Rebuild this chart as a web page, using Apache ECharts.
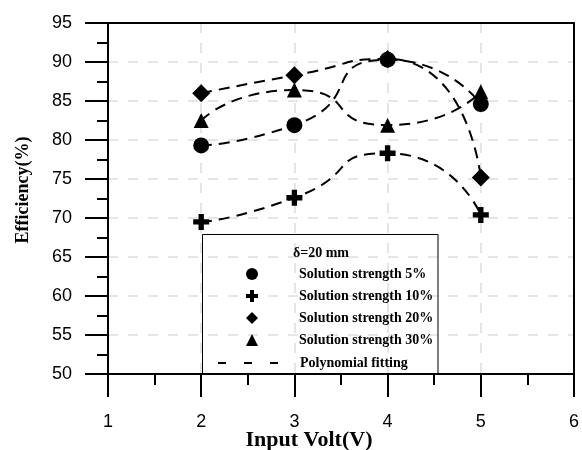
<!DOCTYPE html>
<html>
<head>
<meta charset="utf-8">
<script src="https://cdn.jsdelivr.net/npm/echarts@6/dist/echarts.min.js"></script>
<style>html,body{margin:0;padding:0;background:#fff;}#c{width:582px;height:450px;}</style>
</head>
<body>
<div id="c"></div>
<script>
// ---- data ----
var voltages = [2, 3, 4, 5];
var strength5 = [79.3, 81.9, 90.3, 84.6];
var strength10 = [69.5, 72.6, 78.3, 70.4];
var strength20 = [86.0, 88.3, 90.4, 75.2];
var strength30 = [82.5, 86.4, 81.9, 86.2];
var seriesNames = ['Solution strength 5%', 'Solution strength 10%', 'Solution strength 20%', 'Solution strength 30%'];
var fitName = 'Polynomial fitting';
var legendTitle = '\u03b4=20 mm';
var xTitle = 'Input Volt(V)';
var yTitle = 'Efficiency(%)';

function pairs(ys) { return voltages.map(function (x, i) { return [x, ys[i]]; }); }

var plusPath = 'path://M-1,-3H1V-1H3V1H1V3H-1V1H-3V-1H-1Z';
var serif = 'Liberation Serif, Times New Roman, serif';
var sans = 'Liberation Sans, Arial, sans-serif';

function fit(ys) {
  return {
    type: 'line', name: fitName, data: pairs(ys), smooth: 0.7, symbol: 'none',
    itemStyle: { color: '#000' },
    lineStyle: { color: '#000', width: 2, type: [11, 7] }, z: 2, silent: true
  };
}
function pts(name, ys, symbol, size, z) {
  return {
    type: 'scatter', name: name, data: pairs(ys), symbol: symbol, symbolSize: size,
    itemStyle: { color: '#000', opacity: 1 }, z: z
  };
}

var axisCommon = {
  axisLine: { show: true, lineStyle: { color: '#000', width: 2 } },
  axisTick: { show: true, inside: false, length: 23, lineStyle: { color: '#000', width: 2 } },
  minorTick: { show: true, splitNumber: 2, length: 11, lineStyle: { color: '#000', width: 2 } },
  splitLine: { show: true, showMinLine: false, showMaxLine: false, lineStyle: { color: '#dedede', width: 1.5, type: [10, 10] } }
};

var chart = echarts.init(document.getElementById('c'), null, { renderer: 'canvas' });
chart.setOption({
  animation: false,
  backgroundColor: '#fff',
  grid: { left: 108, right: 7, top: 23, bottom: 76, show: false },
  xAxis: [
    Object.assign({
      type: 'value', min: 1, max: 6, interval: 1,
      axisLabel: { color: '#000', fontSize: 18, fontFamily: sans, margin: 39 }
    }, axisCommon),
    {
      type: 'value', min: 1, max: 6, interval: 1, position: 'top',
      axisLine: { show: true, onZero: false, lineStyle: { color: '#000', width: 2 } },
      axisTick: { show: false }, axisLabel: { show: false }, splitLine: { show: false }
    }
  ],
  yAxis: [
    Object.assign({
      type: 'value', min: 50, max: 95, interval: 5,
      axisLabel: { color: '#000', fontSize: 18, fontFamily: sans, margin: 36 }
    }, axisCommon),
    {
      type: 'value', min: 50, max: 95, interval: 5, position: 'right',
      axisLine: { show: true, onZero: false, lineStyle: { color: '#000', width: 2 } },
      axisTick: { show: false }, axisLabel: { show: false }, splitLine: { show: false }
    }
  ],
  legend: [
    {
      data: seriesNames, orient: 'vertical', left: 246, top: 267, padding: 0,
      itemWidth: 12, itemHeight: 12, itemGap: 8, selectedMode: false,
      textStyle: { fontFamily: serif, fontWeight: 'bold', fontSize: 14, color: '#000', padding: [0, 0, 0, 36] }
    },
    {
      data: [fitName], orient: 'vertical', left: 217, top: 356, padding: 0,
      itemWidth: 62, itemHeight: 12, selectedMode: false,
      lineStyle: { color: '#000', width: 2, type: [8, 18] },
      itemStyle: { color: 'rgba(0,0,0,0)', opacity: 0, borderWidth: 0 },
      textStyle: { fontFamily: serif, fontWeight: 'bold', fontSize: 14, color: '#000', padding: [0, 0, 0, 15] }
    }
  ],
  graphic: [
    { type: 'rect', shape: { x: 202.5, y: 234.5, width: 235.5, height: 139 }, style: { fill: 'none', stroke: '#000', lineWidth: 1 }, z: 5, silent: true },
    { type: 'text', x: 321, y: 253, style: { text: legendTitle, font: 'bold 14px ' + serif, fill: '#000', textAlign: 'center', textVerticalAlign: 'middle' }, z: 5 },
    { type: 'text', x: 309, y: 440, style: { text: xTitle, font: 'bold 22px ' + serif, fill: '#000', textAlign: 'center', textVerticalAlign: 'middle' }, z: 5 },
    { type: 'text', x: 23, y: 190, rotation: Math.PI / 2, style: { text: yTitle, font: 'bold 18px ' + serif, fill: '#000', textAlign: 'center', textVerticalAlign: 'middle' }, z: 5 }
  ],
  series: [
    fit(strength5), fit(strength10), fit(strength20), fit(strength30),
    pts(seriesNames[2], strength20, 'diamond', 18, 3),
    pts(seriesNames[3], strength30, 'triangle', 15, 4),
    pts(seriesNames[1], strength10, plusPath, 16, 5),
    pts(seriesNames[0], strength5, 'circle', 16, 6)
  ]
});
</script>
</body>
</html>
